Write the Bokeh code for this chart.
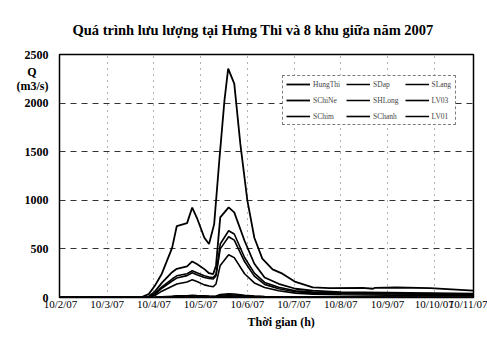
from bokeh.plotting import figure
from bokeh.models import Range1d, FixedTicker, Legend, LegendItem, Title
from bokeh.embed import file_html
from bokeh.resources import INLINE

# ---- data (x in month-tick units: 0 = 10/2/07, 1 = 10/3/07, ...) ----
tick_labels = ["10/2/07", "10/3/07", "10/4/07", "10/5/07", "10/6/07",
               "10/7/07", "10/8/07", "10/9/07", "10/10/07", "10/11/07"]
y_ticks = [0, 500, 1000, 1500, 2000, 2500]

hungthi_x = [0.0, 1.63, 1.74, 1.89, 2.02, 2.17, 2.39, 2.49, 2.71, 2.82, 2.92, 3.08, 3.18,
             3.29, 3.40, 3.51, 3.59, 3.72, 3.85, 4.00, 4.15, 4.32, 4.54, 4.75, 5.03,
             5.40, 5.76, 6.47, 6.69, 6.73, 7.18, 7.91, 8.84]
hungthi_y = [0, 0, 5, 35, 120, 245, 510, 735, 765, 925, 820, 615, 550,
             755, 1410, 2025, 2355, 2200, 1580, 1000, 615, 400, 290, 245, 160,
             105, 97, 100, 90, 100, 103, 97, 70]

mid_x = [0.0, 1.80, 1.89, 2.02, 2.17, 2.39, 2.49, 2.71, 2.82, 2.92, 3.08, 3.18, 3.27,
         3.33, 3.42, 3.60, 3.72, 3.94, 4.15, 4.37, 4.67, 5.03, 5.40, 6.0, 7.0, 8.84]
schine_y = [0, 0, 10, 60, 150, 260, 295, 320, 371, 345, 292, 250, 241,
            330, 824, 927, 876, 584, 347, 206, 141, 90, 70, 55, 50, 40]
schanh_y = [0, 0, 5, 40, 110, 190, 223, 245, 275, 255, 223, 210, 206,
            240, 550, 687, 653, 412, 250, 155, 105, 70, 55, 48, 42, 35]
schim_y = [0, 0, 3, 30, 95, 170, 200, 225, 255, 235, 205, 195, 190,
           225, 500, 625, 590, 370, 220, 135, 90, 60, 45, 40, 36, 30]
lv03_y = [0, 0, 2, 20, 65, 115, 138, 160, 182, 165, 130, 118, 110,
          140, 330, 440, 410, 244, 150, 103, 69, 45, 35, 28, 24, 20]
sdap_y = [0, 0, 0, 3, 8, 14, 17, 19, 22, 20, 17, 15, 14,
          16, 30, 38, 35, 24, 16, 11, 8, 6, 5, 4, 4, 3]
slang_y = [0, 0, 0, 2, 5, 10, 12, 13, 15, 14, 12, 11, 10,
           12, 22, 28, 26, 18, 12, 8, 6, 5, 4, 3, 3, 3]
shlong_y = [0, 0, 0, 1, 3, 6, 7, 8, 9, 8, 7, 6, 6,
            7, 14, 18, 16, 11, 7, 5, 4, 3, 3, 2, 2, 2]
lv01_y = [0, 0, 0, 1, 2, 4, 5, 5, 6, 5, 4, 4, 4,
          5, 9, 12, 11, 7, 5, 3, 3, 2, 2, 2, 1, 1]

SERIF = "Liberation Serif"
W, H = 487, 339
X_END = 8.84
NB = "\u00a0"

p = figure(width=W, height=H, output_backend="svg", toolbar_location=None,
           x_range=Range1d(-0.02, X_END), y_range=Range1d(0, 2500),
           min_border_left=59, min_border_right=14, min_border_top=54, min_border_bottom=42)
p.background_fill_color = "white"
p.border_fill_color = "white"
p.outline_line_color = "black"
p.outline_line_width = 1.5

# title
p.title = Title(text="Quá trình lưu lượng tại Hưng Thi và 8 khu giữa năm 2007",
                align="left", offset=13, standoff=33,
                text_font=SERIF, text_font_size="14.5px", text_font_style="bold",
                text_color="black")

# x axis: the last label sits at the right edge of the frame
x_tick_pos = list(range(9)) + [X_END - 0.005]
p.xaxis.ticker = FixedTicker(ticks=x_tick_pos)
overrides = {i: tick_labels[i] for i in range(9)}
overrides[X_END - 0.005] = tick_labels[9]
p.xaxis.major_label_overrides = overrides

# y axis with the unit label as an extra tick label
q_pos = 2248
p.yaxis.ticker = FixedTicker(ticks=y_ticks + [q_pos])
p.yaxis.major_label_overrides = {q_pos: "Q" + NB * 4 + "\n(m3/s)"}

for ax in (p.xaxis[0], p.yaxis[0]):
    ax.axis_line_color = None
    ax.major_tick_line_color = None
    ax.minor_tick_line_color = None
    ax.major_tick_out = 0
    ax.major_tick_in = 0
    ax.major_label_text_font = SERIF
    ax.major_label_text_color = "black"
p.xaxis.major_label_text_font_size = "11px"
p.xaxis.major_label_standoff = 0
p.yaxis.major_label_text_font_size = "12px"
p.yaxis.major_label_text_font_style = "bold"
p.yaxis.major_label_text_line_height = 1.05
p.yaxis.major_label_standoff = 11

# grids
p.ygrid.ticker = FixedTicker(ticks=y_ticks[1:-1])
p.ygrid.grid_line_color = "#333333"
p.ygrid.grid_line_dash = "6 5"
p.ygrid.grid_line_width = 1
p.xgrid.ticker = FixedTicker(ticks=list(range(1, 9)))
p.xgrid.grid_line_color = "#666666"
p.xgrid.grid_line_dash = "1 5"
p.xgrid.grid_line_width = 1

# x axis title
p.add_layout(Title(text="Thời gian (h)", align="left", offset=188, standoff=0,
                   text_font=SERIF, text_font_size="12px", text_font_style="bold",
                   text_color="black"), "below")

# lines
series = [
    ("HungThi", hungthi_x, hungthi_y, 1.8),
    ("SDap", mid_x, sdap_y, 1.5),
    ("SLang", mid_x, slang_y, 1.5),
    ("SChiNe", mid_x, schine_y, 1.8),
    ("SHLong", mid_x, shlong_y, 1.5),
    ("LV03", mid_x, lv03_y, 1.6),
    ("SChim", mid_x, schim_y, 1.6),
    ("SChanh", mid_x, schanh_y, 1.6),
    ("LV01", mid_x, lv01_y, 1.5),
]
renderers = {}
for name, xs, ys, w in series:
    renderers[name] = p.line(xs, ys, line_color="black", line_width=w)

order = ["HungThi", "SChiNe", "SChim", "SDap", "SHLong", "SChanh", "SLang", "LV03", "LV01"]
legend = Legend(items=[LegendItem(label=n, renderers=[renderers[n]]) for n in order],
                ncols=3, location=(223, 172))
legend.label_text_font = SERIF
legend.label_text_font_size = "7.5px"
legend.label_height = 10
legend.glyph_height = 10
legend.glyph_width = 24
legend.spacing = 6
legend.padding = 3
legend.margin = 0
legend.label_standoff = 3
legend.border_line_color = "black"
legend.border_line_width = 1
legend.border_line_dash = "2 1"
legend.background_fill_color = "white"
legend.background_fill_alpha = 1
p.add_layout(legend, "center")

open("out.html", "w").write(file_html(p, INLINE))
